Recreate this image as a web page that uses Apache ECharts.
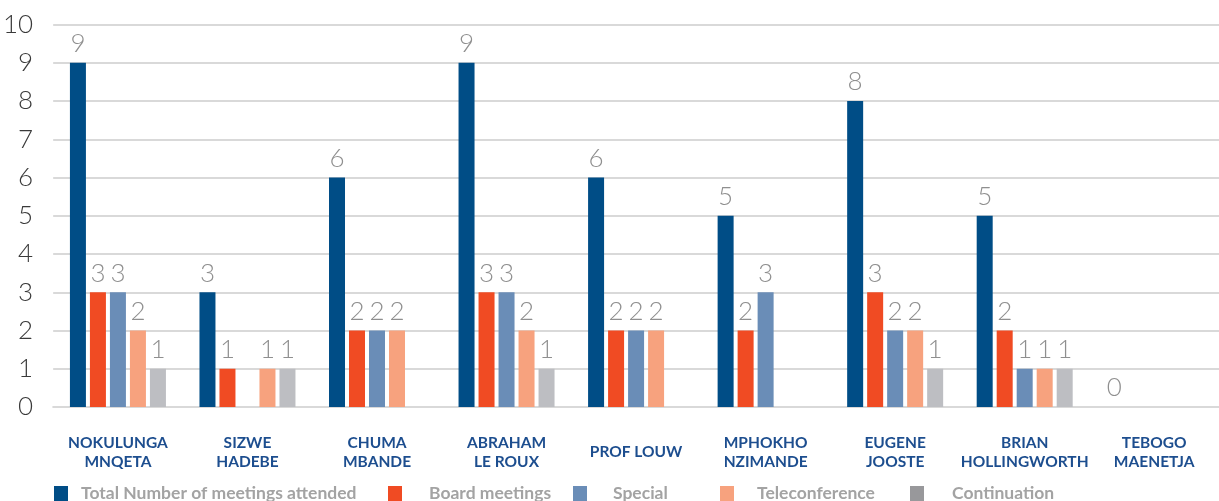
<!DOCTYPE html>
<html>
<head>
<meta charset="utf-8">
<title>Meeting attendance</title>
<script src="https://cdn.jsdelivr.net/npm/echarts@6/dist/echarts.min.js"></script>
<style>
  html, body { margin: 0; padding: 0; background: #ffffff; }
  #chart { width: 1219px; height: 501px; }
</style>
</head>
<body>
<div id="chart"></div>
<script>
// Directors (two-line labels) and their attendance counts per meeting type
const directors = [
  'NOKULUNGA\nMNQETA', 'SIZWE\nHADEBE', 'CHUMA\nMBANDE', 'ABRAHAM\nLE ROUX',
  'PROF LOUW', 'MPHOKHO\nNZIMANDE', 'EUGENE\nJOOSTE', 'BRIAN\nHOLLINGWORTH', 'TEBOGO\nMAENETJA'
];
const totalAttended = [9, 3, 6, 9, 6, 5, 8, 5, 0];
const boardMeetings = [3, 1, 2, 3, 2, 2, 3, 2, null];
const special = [3, null, 2, 3, 2, 3, 2, 1, null];
const teleconference = [2, 1, 2, 2, 2, null, 2, 1, null];
const continuation = [1, 1, null, 1, null, null, 1, 1, null];
const yTicks = [0, 1, 2, 3, 4, 5, 6, 7, 8, 9, 10];

const seriesDefs = [
  { name: 'Total Number of meetings attended', data: totalAttended, color: '#004d86', legendLeft: 54, textGap: 8 },
  { name: 'Board meetings', data: boardMeetings, color: '#f04b23', legendLeft: 388, textGap: 22 },
  { name: 'Special', data: special, color: '#6a8db7', legendLeft: 573, textGap: 21 },
  { name: 'Teleconference', data: teleconference, color: '#f7a27e', legendLeft: 720, textGap: 18 },
  { name: 'Continuation', data: continuation, color: '#bdbec2', legendLeft: 910, textGap: 23, legendColor: '#98989b' }
];

const chart = echarts.init(document.getElementById('chart'), null, { renderer: 'canvas' });

// One legend per series so each entry sits at its own column
const legends = seriesDefs.map(s => ({
  data: [{ name: s.name, itemStyle: { color: s.legendColor || s.color } }],
  left: s.legendLeft,
  top: 484.5,
  padding: 0,
  itemWidth: 14,
  itemHeight: 15,
  icon: 'rect',
  selectedMode: false,
  textStyle: {
    fontFamily: 'Lato',
    fontWeight: 'bold',
    fontSize: 17.5,
    color: '#a3a3a3',
    padding: [0, 0, 0, s.textGap]
  }
}));

chart.setOption({
  animation: false,
  backgroundColor: '#ffffff',
  grid: { left: 52, right: -3, top: 24.5, bottom: 94, containLabel: false },
  legend: legends,
  xAxis: {
    type: 'category',
    data: directors,
    axisTick: { show: false },
    axisLine: { show: true, lineStyle: { color: '#d9d9d9', width: 2 } },
    axisLabel: {
      interval: 0,
      margin: 45,
      verticalAlign: 'middle',
      lineHeight: 19,
      fontFamily: 'Lato',
      fontWeight: 'bold',
      fontSize: 15.5,
      color: '#1d4e8f'
    }
  },
  yAxis: {
    type: 'value',
    min: yTicks[0],
    max: yTicks[yTicks.length - 1],
    interval: 1,
    axisLine: { show: false },
    axisTick: { show: false },
    splitLine: { lineStyle: { color: '#d9d9d9', width: 2 } },
    axisLabel: {
      margin: 20,
      fontFamily: 'Lato',
      fontWeight: 300,
      fontSize: 26,
      color: '#3a3a3a'
    }
  },
  series: seriesDefs.map(s => ({
    name: s.name,
    type: 'bar',
    data: s.data,
    barWidth: 16,
    barGap: '25%',
    itemStyle: { color: s.color },
    label: {
      show: true,
      position: 'top',
      distance: 6,
      fontFamily: 'Lato',
      fontWeight: 300,
      fontSize: 26,
      color: '#8f8f8f'
    }
  }))
});
</script>
</body>
</html>
